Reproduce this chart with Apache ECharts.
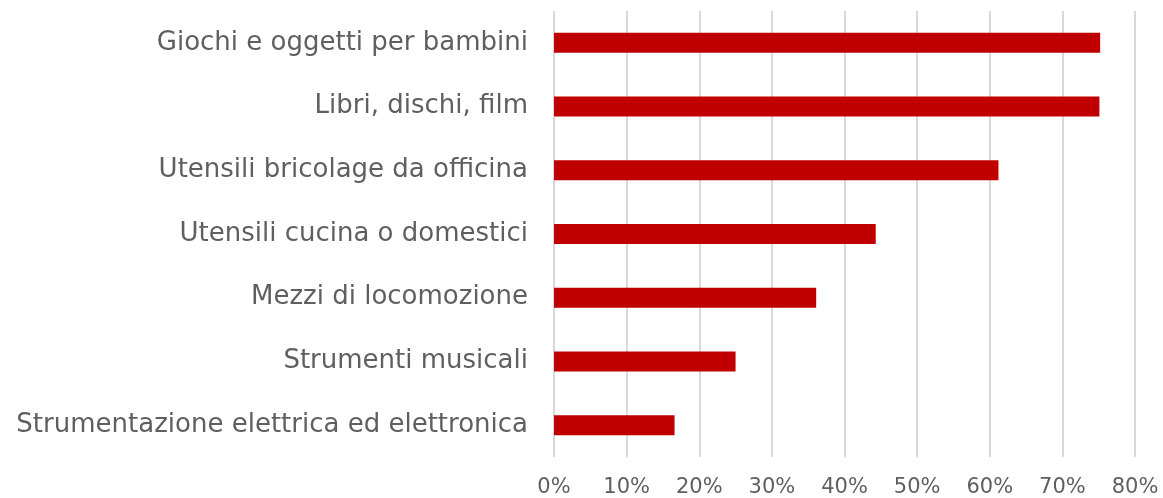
<!DOCTYPE html>
<html>
<head>
<meta charset="utf-8">
<script src="https://cdn.jsdelivr.net/npm/echarts@6/dist/echarts.min.js"></script>
<style>
  html, body { margin: 0; padding: 0; background: #ffffff; }
  #chart { width: 1163px; height: 498px; }
</style>
</head>
<body>
<div id="chart"></div>
<script>
// Categories, top to bottom
const categories = [
  'Giochi e oggetti per bambini',
  'Libri, dischi, film',
  'Utensili bricolage da officina',
  'Utensili cucina o domestici',
  'Mezzi di locomozione',
  'Strumenti musicali',
  'Strumentazione elettrica ed elettronica'
];
// Share of respondents (fraction)
const shares = [0.752, 0.751, 0.612, 0.443, 0.361, 0.250, 0.166];
// X axis range and step
const axisMin = 0;
const axisMax = 0.8;
const axisStep = 0.1;

const chart = echarts.init(document.getElementById('chart'), null, { renderer: 'canvas' });
const fontFamily = '"DejaVu Sans", sans-serif';
chart.setOption({
  animation: false,
  backgroundColor: '#ffffff',
  grid: { left: 554, right: 28, top: 11, bottom: 40, containLabel: false },
  xAxis: {
    type: 'value',
    min: axisMin,
    max: axisMax,
    interval: axisStep,
    axisLine: { show: false },
    axisTick: { show: false },
    splitLine: { show: true, lineStyle: { color: '#d9d9d9', width: 2 } },
    axisLabel: {
      color: '#5f5f5f',
      fontFamily: fontFamily,
      fontSize: 21,
      margin: 20,
      formatter: v => Math.round(v * 100) + '%'
    }
  },
  yAxis: {
    type: 'category',
    data: categories,
    inverse: true,
    axisLine: { show: false },
    axisTick: { show: false },
    splitLine: { show: false },
    axisLabel: {
      color: '#5f5f5f',
      fontFamily: fontFamily,
      fontSize: 26,
      margin: 26
    }
  },
  series: [{
    type: 'bar',
    data: shares,
    barWidth: 20,
    itemStyle: { color: '#c00000' }
  }]
});
</script>
</body>
</html>
